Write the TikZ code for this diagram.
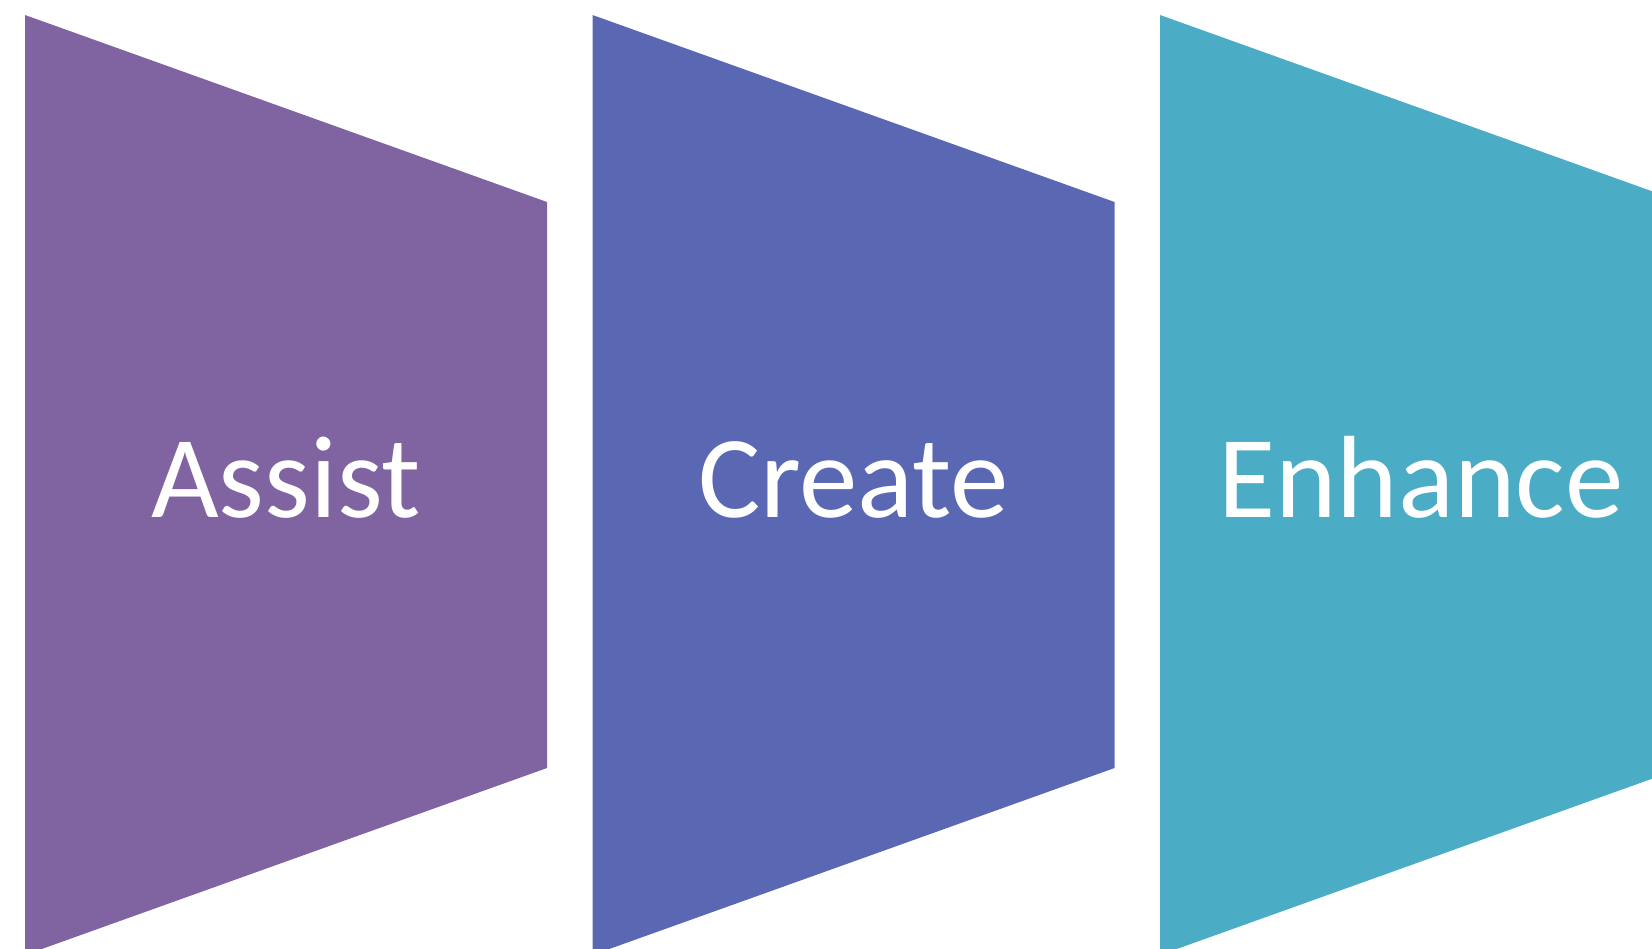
\documentclass[tikz,border=0pt]{standalone}
\usepackage{fontspec}
\setmainfont{Carlito}
\definecolor{cpurple}{HTML}{8064A2}
\definecolor{cblue}{HTML}{5A68B4}
\definecolor{cteal}{HTML}{4BACC6}
\tikzset{
  lbl/.style={text=white, font=\fontsize{117}{130}\selectfont, inner sep=0pt, anchor=base}
}
\begin{document}
\begin{tikzpicture}[x=1pt,y=-1pt]
\useasboundingbox (0,0) rectangle (1652,948);
\clip (0,0) rectangle (1652,948);
\foreach \x/\c in {25/cpurple, 592.5/cblue, 1160/cteal}{
  \fill[\c] (\x,15) -- (\x+522,202) -- (\x+522,768) -- (\x,955) -- cycle;
}
\node[lbl] (assist) at (286,517) {Assist};
\node[lbl] (create) at (853.5,517) {Create};
\node[lbl] (enhance) at (1421,517) {Enhance};
\end{tikzpicture}
\end{document}
